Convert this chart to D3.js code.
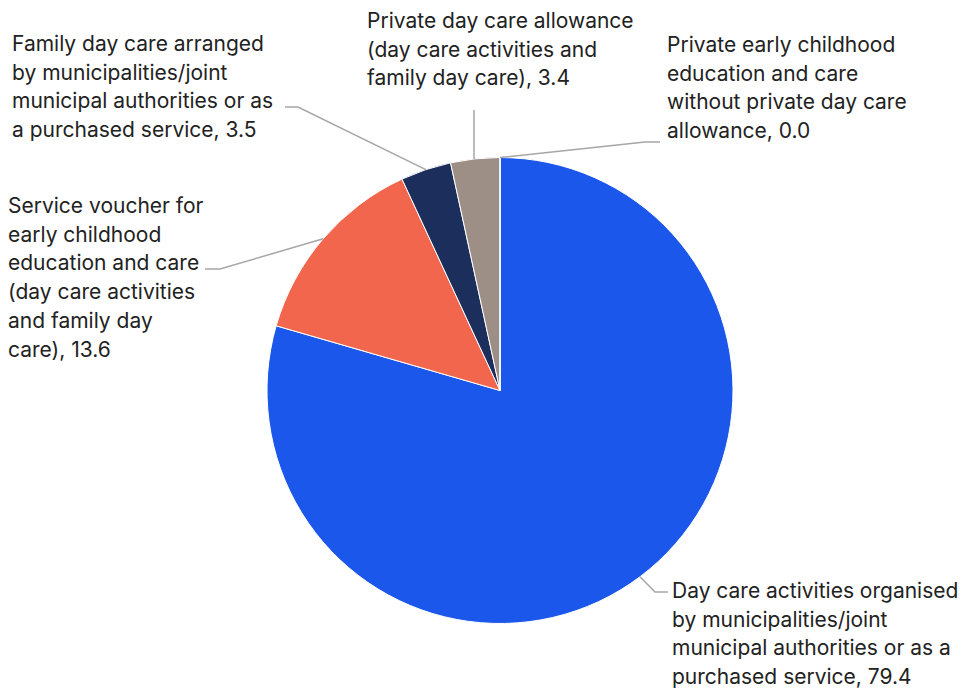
<!DOCTYPE html>
<html><head><meta charset="utf-8">
<script src="https://cdn.jsdelivr.net/npm/d3@7"></script>
<style>body{margin:0;background:#fff}svg{display:block}</style>
</head><body>
<svg id="c" width="968" height="691"></svg>
<script>
const categories = [
  "Day care activities organised by municipalities/joint municipal authorities or as a purchased service",
  "Service voucher for early childhood education and care (day care activities and family day care)",
  "Family day care arranged by municipalities/joint municipal authorities or as a purchased service",
  "Private day care allowance (day care activities and family day care)",
  "Private early childhood education and care without private day care allowance"
];
const values = [79.4, 13.6, 3.5, 3.4, 0.0];
const colors = ["#1b57eb", "#f2664d", "#1c2f5c", "#9d8e86", "#c9c0bb"];
const labelLines = [
  ["Day care activities organised", "by municipalities/joint", "municipal authorities or as a", "purchased service, 79.4"],
  ["Service voucher for", "early childhood", "education and care", "(day care activities", "and family day", "care), 13.6"],
  ["Family day care arranged", "by municipalities/joint", "municipal authorities or as", "a purchased service, 3.5"],
  ["Private day care allowance", "(day care activities and", "family day care), 3.4"],
  ["Private early childhood", "education and care", "without private day care", "allowance, 0.0"]
];

// layout
const cx = 500, cy = 390.5, R = 233, lineH = 28.7;
const labelPos = [
  {x: 672, y: 598, elbow: [[655, 592], [668, 592]]},
  {x: 8, y: 213, elbow: [[220, 269], [205, 269]]},
  {x: 12, y: 51, elbow: [[298, 107], [285, 107]]},
  {x: 367, y: 28, elbow: [[474, 110]]},
  {x: 667, y: 52, elbow: [[645, 142], [660, 142]]}
];

const svg = d3.select("#c");
const g = svg.append("g").attr("transform", `translate(${cx},${cy})`);
const pie = d3.pie().sort(null).value(d => d)(values);
const arc = d3.arc().innerRadius(0).outerRadius(R);

g.selectAll("path.s").data(pie).join("path")
  .attr("class", "s")
  .attr("d", arc)
  .attr("fill", (d, i) => colors[i])
  .attr("stroke", "#fff").attr("stroke-width", 1);

// leader lines
pie.forEach((d, i) => {
  const mid = (d.startAngle + d.endAngle) / 2;
  let sx = Math.sin(mid) * R, sy = -Math.cos(mid) * R;
  const pts = [[cx + sx, cy + sy]].concat(labelPos[i].elbow);
  if (i === 3) pts[0] = [labelPos[i].elbow[0][0], cy - Math.sqrt(R*R - Math.pow(labelPos[i].elbow[0][0]-cx,2))];
  svg.append("path")
    .attr("d", d3.line()(pts))
    .attr("fill", "none").attr("stroke", "#a6a6a6").attr("stroke-width", 1.5);
});

// labels
labelLines.forEach((lines, i) => {
  const t = svg.append("text")
    .attr("font-family", "Inter, Roboto, sans-serif")
    .attr("font-size", 21).attr("fill", "#222");
  lines.forEach((ln, j) => {
    t.append("tspan").attr("x", labelPos[i].x).attr("y", labelPos[i].y + j * lineH).text(ln);
  });
});
</script>
</body></html>
